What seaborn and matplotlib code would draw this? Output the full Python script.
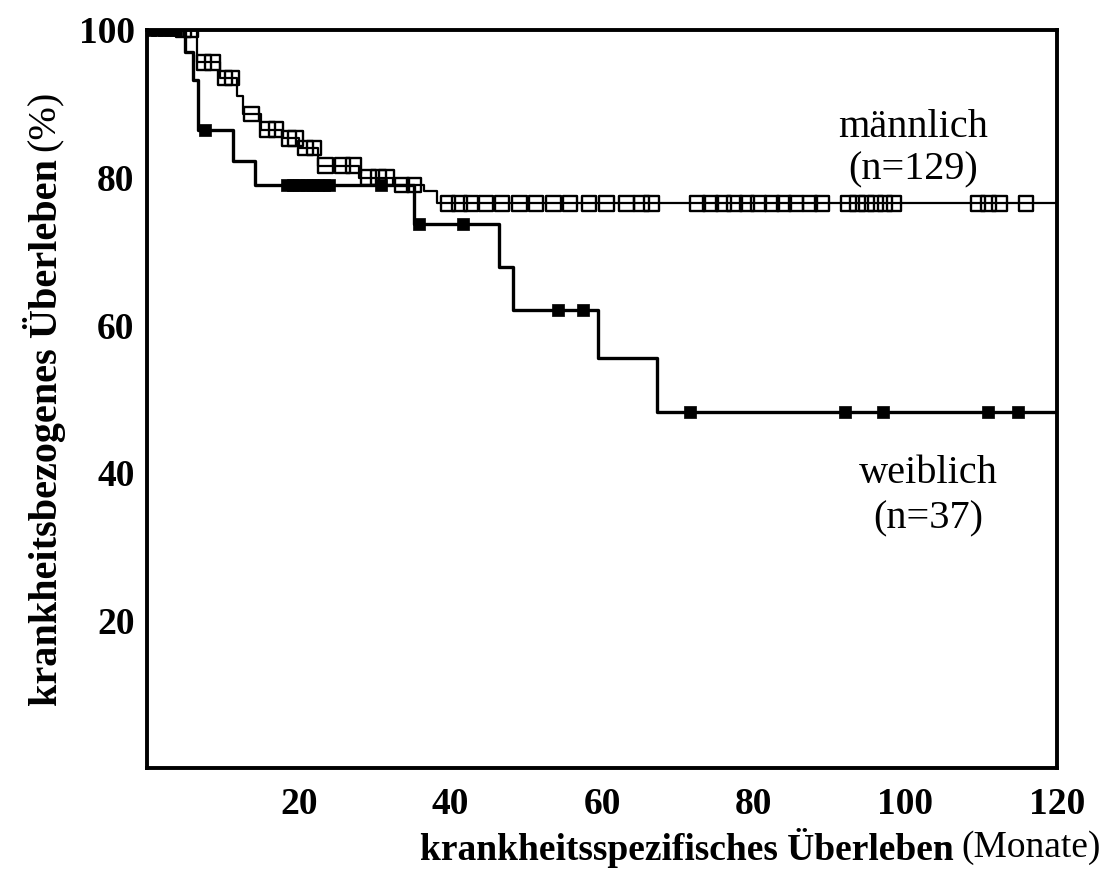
import numpy as np
import pandas as pd
import matplotlib
matplotlib.use("Agg")
import matplotlib.pyplot as plt
import seaborn as sns

# Kaplan-Meier steps (months, survival %)
male_t = [0, 6.6, 9.6, 11.8, 12.6, 15.0, 17.8, 20.0, 22.5, 28.0, 32.5, 36.5, 38.3]
male_s = [100, 95.6, 93.5, 91.0, 88.6, 86.5, 85.3, 84.0, 81.6, 80.0, 79.0, 78.2, 76.5]
male_cens = [4.8, 5.8, 7.5, 8.6, 10.3, 11.2, 13.8, 15.9, 17.0, 18.7, 19.6, 20.9, 22.0,
             23.5, 25.8, 27.2, 29.2, 30.5, 31.6, 33.6, 35.2, 39.7, 41.2, 42.7, 44.7,
             46.8, 49.1, 51.3, 53.6, 55.8, 58.3, 60.6, 63.2, 65.2, 66.5, 72.6, 74.3,
             76.0, 77.5, 79.1, 80.6, 82.4, 84.0, 85.6, 87.4, 89.0, 92.5, 93.7, 94.9,
             96.1, 97.3, 98.5, 109.6, 111.0, 112.4, 115.9]

female_t = [0, 5.0, 6.0, 6.7, 11.3, 14.2, 35.2, 46.4, 48.3, 59.5, 67.2]
female_s = [100, 97.0, 93.2, 86.4, 82.2, 79.0, 73.7, 67.9, 62.0, 55.5, 48.2]
female_cens = [0.4, 1.3, 2.2, 3.0, 3.8, 7.7, 18.5, 19.3, 20.1, 20.9, 21.7, 22.5, 23.3,
               24.0, 30.8, 35.8, 41.7, 54.2, 57.5, 71.6, 92.1, 97.0, 110.9, 114.8]

x_ticks = [0, 20, 40, 60, 80, 100, 120]
x_ticklabels = ["", "20", "40", "60", "80", "100", "120"]
y_ticks = [0, 20, 40, 60, 80, 100]
y_ticklabels = ["", "20", "40", "60", "80", "100"]
x_max = 120


def step_frame(t, s):
    return pd.DataFrame({"t": list(t) + [x_max], "s": list(s) + [s[-1]]})


def cens_frame(t, s, c):
    idx = np.searchsorted(t, c, side="right") - 1
    return pd.DataFrame({"t": c, "s": np.asarray(s)[idx]})


sns.set_style("white")
plt.rcParams["font.family"] = ["Liberation Serif", "DejaVu Serif"]
plt.rcParams["text.color"] = "black"
plt.rcParams["xtick.color"] = "black"
plt.rcParams["ytick.color"] = "black"

fig = plt.figure(figsize=(11.09, 8.72), dpi=100)
ax = fig.add_axes([0.1326, 0.1198, 0.8205, 0.8458])

sns.lineplot(data=step_frame(male_t, male_s), x="t", y="s", ax=ax,
             drawstyle="steps-post", color="black", lw=1.6,
             estimator=None, sort=False)
sns.lineplot(data=step_frame(female_t, female_s), x="t", y="s", ax=ax,
             drawstyle="steps-post", color="black", lw=2.4,
             estimator=None, sort=False)
sns.scatterplot(data=cens_frame(male_t, male_s, male_cens), x="t", y="s", ax=ax,
                marker="s", s=110, facecolor="none", edgecolor="black",
                linewidth=1.7, zorder=3)
sns.scatterplot(data=cens_frame(female_t, female_s, female_cens), x="t", y="s", ax=ax,
                marker="s", s=65, color="black", edgecolor="black",
                linewidth=0.5, zorder=4)

ax.set_xlim(0, x_max)
ax.set_ylim(0, 100)
ax.set_xticks(x_ticks)
ax.set_xticklabels(x_ticklabels, fontsize=27, fontweight="bold")
ax.set_yticks(y_ticks)
ax.set_yticklabels(y_ticklabels, fontsize=27, fontweight="bold")
ax.tick_params(axis="both", direction="out", length=6, width=2.5, colors="black")
ax.tick_params(axis="x", pad=8)
ax.tick_params(axis="y", pad=3)
for sp in ax.spines.values():
    sp.set_linewidth(2.8)
    sp.set_color("black")
ax.set_xlabel("")
ax.set_ylabel("")

ax.text(101, 86.8, "männlich", ha="center", va="center", fontsize=29)
ax.text(101, 81.0, "(n=129)", ha="center", va="center", fontsize=29)
ax.text(103, 39.9, "weiblich", ha="center", va="center", fontsize=29)
ax.text(103, 33.7, "(n=37)", ha="center", va="center", fontsize=29)

# axis titles: bold part + normal part
r = fig.canvas.get_renderer()
W, H = fig.get_size_inches() * fig.dpi
t2 = fig.text(1101 / W, 1 - 848 / H, "(Monate)", ha="right", va="center", fontsize=27)
bb = t2.get_window_extent(r)
fig.text((bb.x0 - 8) / W, 1 - 848 / H, "krankheitsspezifisches Überleben",
         ha="right", va="center", fontsize=27, fontweight="bold")

t3 = fig.text(45 / W, 1 - 706 / H, "krankheitsbezogenes Überleben", rotation=90,
              ha="center", va="bottom", fontsize=29, fontweight="bold")
bb = t3.get_window_extent(r)
fig.text(45 / W, (bb.y1 + 8) / H, "(%)", rotation=90, ha="center", va="bottom",
         fontsize=29)

fig.savefig("out.png", dpi=100)
